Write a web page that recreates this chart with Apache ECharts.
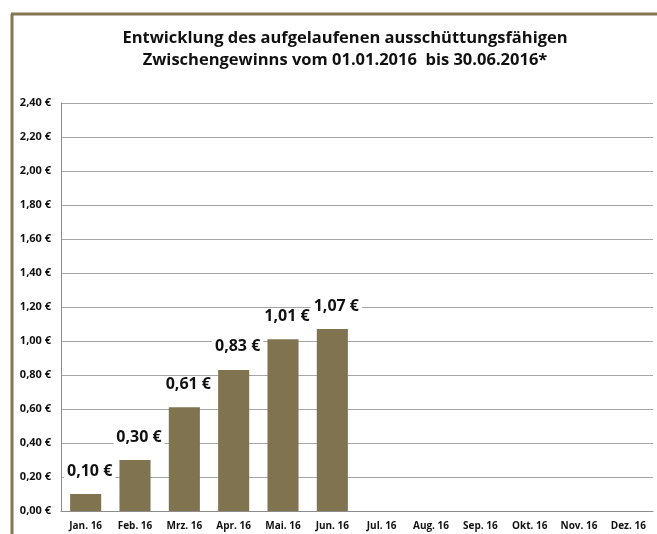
<!DOCTYPE html>
<html>
<head>
<meta charset="utf-8">
<script src="https://cdn.jsdelivr.net/npm/echarts@6/dist/echarts.min.js"></script>
<style>
  html, body { margin: 0; padding: 0; background: #fff; }
  #chart { width: 657px; height: 534px; }
</style>
</head>
<body>
<div id="chart"></div>
<script>
const months = ['Jan. 16', 'Feb. 16', 'Mrz. 16', 'Apr. 16', 'Mai. 16', 'Jun. 16',
  'Jul. 16', 'Aug. 16', 'Sep. 16', 'Okt. 16', 'Nov. 16', 'Dez. 16']
const gewinn = [0.10, 0.30, 0.61, 0.83, 1.01, 1.07, null, null, null, null, null, null]
const titleLines = ['Entwicklung des aufgelaufenen ausschüttungsfähigen',
  'Zwischengewinns vom 01.01.2016  bis 30.06.2016*']

const euro = v => v.toFixed(2).replace('.', ',') + ' €'
const font = 'Open Sans, Noto Sans, sans-serif'
const frame = '#857752'

const myChart = echarts.init(document.getElementById('chart'))
myChart.setOption({
  animation: false,
  title: {
    text: titleLines.join('\n'),
    left: 340,
    top: 22,
    textAlign: 'center',
    textStyle: {
      fontFamily: font,
      fontWeight: 'bold',
      fontSize: 16.5,
      lineHeight: 22,
      color: '#111'
    }
  },
  grid: { left: 61, right: 4, top: 103, bottom: 23 },
  xAxis: {
    type: 'category',
    data: months,
    axisLine: { lineStyle: { color: '#8c8c8c' } },
    axisTick: { show: false },
    axisLabel: {
      interval: 0,
      margin: 10,
      fontFamily: font,
      fontWeight: 'bold',
      fontSize: 10,
      color: '#111'
    }
  },
  yAxis: {
    type: 'value',
    min: 0,
    max: 2.4,
    interval: 0.2,
    axisLine: { show: true, lineStyle: { color: '#8c8c8c' } },
    axisTick: { show: false },
    splitLine: { lineStyle: { color: '#a6a6a6' } },
    axisLabel: {
      margin: 10,
      formatter: euro,
      fontFamily: font,
      fontWeight: 'bold',
      fontSize: 11,
      color: '#111'
    }
  },
  series: [{
    type: 'bar',
    data: gewinn,
    barWidth: '63%',
    itemStyle: { color: '#7f7350' },
    label: {
      show: true,
      position: 'top',
      distance: 15,
      offset: [4, 0],
      formatter: p => euro(p.value),
      fontFamily: font,
      fontWeight: 'bold',
      fontSize: 16,
      color: '#111',
      backgroundColor: '#fff',
      padding: [0, 3]
    }
  }],
  graphic: [
    { type: 'line', shape: { x1: 12, y1: 14, x2: 12, y2: 534 }, style: { stroke: frame, lineWidth: 3 } },
    { type: 'line', shape: { x1: 11, y1: 14, x2: 657, y2: 14 }, style: { stroke: frame, lineWidth: 3 } }
  ]
})
</script>
</body>
</html>
